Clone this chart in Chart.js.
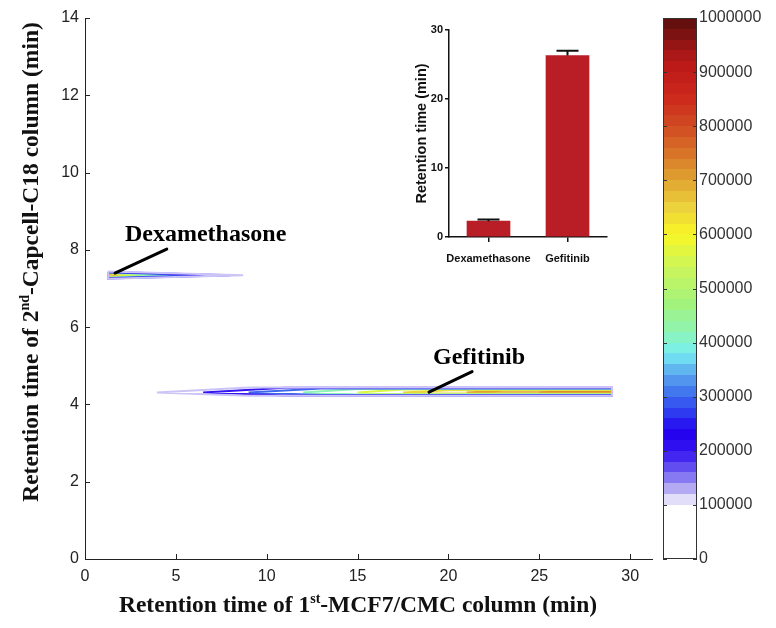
<!DOCTYPE html>
<html>
<head>
<title>2D retention map</title>
<script src="https://cdn.jsdelivr.net/npm/chart.js"></script>
<style>
  body { margin: 0; background: #fff; }
  #wrap { position: relative; width: 776px; height: 628px; }
  canvas { position: absolute; }
</style>
</head>
<body>
<div id="wrap">
  <canvas id="mainChart" width="776" height="628" style="left:0;top:0"></canvas>
  <canvas id="barChart" width="136" height="628" style="left:640px;top:0"></canvas>
  <canvas id="insetChart" width="220" height="260" style="left:400px;top:10px"></canvas>
</div>
<script>
// contour levels (signal) drawn for each peak
const contourLevels = [120000, 200000, 300000, 420000, 560000, 650000, 720000, 850000];

// Dexamethasone peak (cut at the left edge, tapering to the right)
const dexLeft = 1.27;
const dexTipY = 7.34;
const dexTipX = [8.7, 8.0, 6.5, 4.5, 3.3, 2.6, 2.2, null];
const dexTop = [7.44, 7.43, 7.42, 7.41, 7.40, 7.39, 7.38, null];
const dexBottom = [7.25, 7.26, 7.27, 7.28, 7.295, 7.30, 7.31, null];

// Gefitinib peak (tapering to the left, cut at the right edge)
const gefRight = 29.0;
const gefTipY = 4.31;
const gefTipX = [3.96, 6.5, 9.0, 12.0, 15.0, 17.5, 21.0, 25.0];
const gefShoulderX = [9.0, 11.0, 13.0, 15.0, 17.5, 20.0, 23.0, 26.5];
const gefTop = [4.435, 4.43, 4.415, 4.40, 4.385, 4.37, 4.355, 4.34];
const gefBottom = [4.225, 4.23, 4.245, 4.26, 4.27, 4.28, 4.29, 4.30];

// peak labels: text anchor and leader line, in data units
const peakNames = ['Dexamethasone', 'Gefitinib'];
const peakTextAt = [[2.2, 8.23], [19.15, 5.05]];
const leaderFrom = [[1.65, 7.40], [18.93, 4.32]];
const leaderTo = [[4.5, 8.02], [21.3, 4.85]];

// inset bar chart
const insetCategories = ['Dexamethasone', 'Gefitinib'];
const insetMeans = [2.3, 26.3];
const insetErrors = [0.25, 0.7];

// colour scale of the colour bar
const paletteStops = [
  [0, '#ffffff'], [100000, '#ffffff'], [110000, '#e2defa'], [130000, '#b4aaf4'],
  [160000, '#7060f0'], [200000, '#3414f0'], [235000, '#2200ee'], [270000, '#2e3af0'],
  [305000, '#4070ee'], [340000, '#58a4ee'], [380000, '#76eef2'], [420000, '#8ef4b4'],
  [470000, '#a2f27e'], [540000, '#ccf65a'], [600000, '#f8f624'], [650000, '#ecd23c'],
  [700000, '#e0a430'], [750000, '#d87428'], [800000, '#d04a22'], [860000, '#cc261c'],
  [920000, '#b81818'], [1000000, '#5a0e0e']
];
const colorbarStep = 20000;

function hexToRgb(h) {
  return [parseInt(h.slice(1, 3), 16), parseInt(h.slice(3, 5), 16), parseInt(h.slice(5, 7), 16)];
}
function paletteAt(v) {
  for (let i = 1; i < paletteStops.length; i++) {
    const [v1, c1] = paletteStops[i];
    const [v0, c0] = paletteStops[i - 1];
    if (v <= v1) {
      const t = (v - v0) / (v1 - v0);
      const a = hexToRgb(c0), b = hexToRgb(c1);
      return 'rgb(' + a.map((x, k) => Math.round(x + (b[k] - x) * t)).join(',') + ')';
    }
  }
  return paletteStops[paletteStops.length - 1][1];
}

// build closed contour outlines from the read values
const datasets = [];
contourLevels.forEach((lvl, i) => {
  if (dexTipX[i] !== null) {
    datasets.push({
      data: [
        { x: dexLeft, y: dexTop[i] }, { x: dexTipX[i], y: dexTipY },
        { x: dexLeft, y: dexBottom[i] }, { x: dexLeft, y: dexTop[i] }
      ],
      borderColor: paletteAt(lvl)
    });
  }
  datasets.push({
    data: [
      { x: gefTipX[i], y: gefTipY }, { x: gefShoulderX[i], y: gefTop[i] },
      { x: gefRight, y: gefTop[i] }, { x: gefRight, y: gefBottom[i] },
      { x: gefShoulderX[i], y: gefBottom[i] }, { x: gefTipX[i], y: gefTipY }
    ],
    borderColor: paletteAt(lvl)
  });
});
datasets.forEach(d => {
  d.showLine = true;
  d.pointRadius = 0;
  d.borderWidth = 2;
  d.tension = 0;
  d.fill = false;
});

const tickFont = { family: '"Liberation Sans", Arial, sans-serif', size: 16 };
const titleFont = 'bold 23.5px "Liberation Serif", "Times New Roman", serif';
const supFont = 'bold 14px "Liberation Serif", "Times New Roman", serif';

function drawRich(ctx, parts, x, y) {
  let w = 0;
  parts.forEach(p => { ctx.font = p.sup ? supFont : titleFont; w += ctx.measureText(p.t).width; });
  let cx = x - w / 2;
  parts.forEach(p => {
    ctx.font = p.sup ? supFont : titleFont;
    ctx.fillText(p.t, cx, p.sup ? y - 9 : y);
    cx += ctx.measureText(p.t).width;
  });
}

const insideTicks = {
  id: 'insideTicks',
  afterDraw(chart) {
    const { ctx, chartArea, scales } = chart;
    ctx.save();
    ctx.strokeStyle = '#222';
    ctx.lineWidth = 1;
    ctx.beginPath();
    scales.x.ticks.forEach(t => {
      const px = Math.round(scales.x.getPixelForValue(t.value)) + 0.5;
      ctx.moveTo(px, chartArea.bottom);
      ctx.lineTo(px, chartArea.bottom - 5);
    });
    scales.y.ticks.forEach(t => {
      const py = Math.round(scales.y.getPixelForValue(t.value)) + 0.5;
      ctx.moveTo(chartArea.left, py);
      ctx.lineTo(chartArea.left + 5, py);
    });
    ctx.stroke();
    ctx.restore();
  }
};

const mainTitles = {
  id: 'mainTitles',
  afterDraw(chart) {
    const { ctx } = chart;
    ctx.save();
    ctx.fillStyle = '#111';
    ctx.textBaseline = 'alphabetic';
    ctx.textAlign = 'left';
    drawRich(ctx, [{ t: 'Retention time of 1' }, { t: 'st', sup: true }, { t: '-MCF7/CMC column (min)' }], 358, 612);
    ctx.translate(38, 262);
    ctx.rotate(-Math.PI / 2);
    drawRich(ctx, [{ t: 'Retention time of 2' }, { t: 'nd', sup: true }, { t: '-Capcell-C18 column (min)' }], 0, 0);
    ctx.restore();
  }
};

const peakLabels = {
  id: 'peakLabels',
  afterDraw(chart) {
    const { ctx, scales } = chart;
    ctx.save();
    ctx.strokeStyle = '#000';
    ctx.lineWidth = 3;
    ctx.lineCap = 'round';
    ctx.fillStyle = '#000';
    ctx.font = 'bold 24px "Liberation Serif", "Times New Roman", serif';
    peakNames.forEach((name, i) => {
      ctx.beginPath();
      ctx.moveTo(scales.x.getPixelForValue(leaderFrom[i][0]), scales.y.getPixelForValue(leaderFrom[i][1]));
      ctx.lineTo(scales.x.getPixelForValue(leaderTo[i][0]), scales.y.getPixelForValue(leaderTo[i][1]));
      ctx.stroke();
      ctx.fillText(name, scales.x.getPixelForValue(peakTextAt[i][0]), scales.y.getPixelForValue(peakTextAt[i][1]));
    });
    ctx.restore();
  }
};

new Chart(document.getElementById('mainChart'), {
  type: 'scatter',
  data: { datasets },
  options: {
    responsive: false,
    animation: false,
    layout: { padding: { top: 18, right: 124, left: 0, bottom: 0 } },
    plugins: { legend: { display: false }, tooltip: { enabled: false } },
    scales: {
      x: {
        type: 'linear', min: 0, max: 31.2,
        afterFit: s => { s.height = 69; },
        ticks: { stepSize: 5, includeBounds: false, font: tickFont, color: '#222', padding: 8, maxRotation: 0 },
        grid: { drawOnChartArea: false, drawTicks: false },
        border: { color: '#222', width: 1 }
      },
      y: {
        type: 'linear', min: 0, max: 14,
        afterFit: s => { s.width = 85; },
        ticks: { stepSize: 2, font: tickFont, color: '#222', padding: 6 },
        grid: { drawOnChartArea: false, drawTicks: false },
        border: { color: '#222', width: 1 }
      }
    }
  },
  plugins: [insideTicks, mainTitles, peakLabels]
});

// colour bar
const colorbarFrame = {
  id: 'colorbarFrame',
  afterDraw(chart) {
    const { ctx, chartArea, scales } = chart;
    ctx.save();
    ctx.strokeStyle = '#333';
    ctx.lineWidth = 1;
    ctx.strokeRect(chartArea.left + 0.5, chartArea.top + 0.5, chartArea.right - chartArea.left - 1, chartArea.bottom - chartArea.top - 1);
    ctx.beginPath();
    scales.y.ticks.forEach(t => {
      const py = Math.round(scales.y.getPixelForValue(t.value)) + 0.5;
      ctx.moveTo(chartArea.left, py); ctx.lineTo(chartArea.left + 4, py);
      ctx.moveTo(chartArea.right, py); ctx.lineTo(chartArea.right - 4, py);
    });
    ctx.stroke();
    ctx.restore();
  }
};

new Chart(document.getElementById('barChart'), {
  type: 'bar',
  data: {
    labels: [''],
    datasets: [{
      data: [1000000],
      barPercentage: 1, categoryPercentage: 1,
      backgroundColor: c => {
        const area = c.chart.chartArea;
        if (!area) return '#fff';
        const g = c.chart.ctx.createLinearGradient(0, area.bottom, 0, area.top);
        g.addColorStop(0, '#ffffff');
        g.addColorStop(0.1, '#ffffff');
        for (let v = 100000; v < 1000000; v += colorbarStep) {
          const col = paletteAt(v + colorbarStep / 2);
          g.addColorStop(v / 1000000, col);
          g.addColorStop(Math.min(1, (v + colorbarStep) / 1000000), col);
        }
        return g;
      }
    }]
  },
  options: {
    responsive: false,
    animation: false,
    layout: { padding: { top: 18, left: 23, right: 0, bottom: 69 } },
    plugins: { legend: { display: false }, tooltip: { enabled: false } },
    scales: {
      x: { display: false },
      y: {
        position: 'right', min: 0, max: 1000000,
        afterFit: s => { s.width = 79; },
        ticks: { stepSize: 100000, font: tickFont, color: '#333', padding: 2, callback: v => String(v) },
        grid: { display: false, drawTicks: false },
        border: { display: false }
      }
    }
  },
  plugins: [colorbarFrame]
});

// inset bar chart with error bars
const errorBars = {
  id: 'errorBars',
  afterDatasetsDraw(chart) {
    const { ctx, scales } = chart;
    ctx.save();
    ctx.strokeStyle = '#111';
    ctx.lineWidth = 2;
    insetMeans.forEach((m, i) => {
      const px = scales.x.getPixelForValue(i);
      const y0 = scales.y.getPixelForValue(m);
      const y1 = scales.y.getPixelForValue(m + insetErrors[i]);
      ctx.beginPath();
      ctx.moveTo(px, y0); ctx.lineTo(px, y1);
      ctx.moveTo(px - 11, y1); ctx.lineTo(px + 11, y1);
      ctx.stroke();
    });
    ctx.font = 'bold 14.5px "Liberation Sans", Arial, sans-serif';
    ctx.fillStyle = '#111';
    ctx.textAlign = 'center';
    ctx.textBaseline = 'middle';
    const a = chart.chartArea;
    ctx.translate(a.left - 27, (a.top + a.bottom) / 2);
    ctx.rotate(-Math.PI / 2);
    ctx.fillText('Retention time (min)', 0, 0);
    ctx.restore();
  }
};

const insetFont = { family: '"Liberation Sans", Arial, sans-serif', size: 11, weight: 'bold' };
new Chart(document.getElementById('insetChart'), {
  type: 'bar',
  data: {
    labels: insetCategories,
    datasets: [{ data: insetMeans, backgroundColor: '#b91d26', barThickness: 43 }]
  },
  options: {
    responsive: false,
    animation: false,
    layout: { padding: { top: 20, right: 13, left: 0, bottom: 0 } },
    plugins: { legend: { display: false }, tooltip: { enabled: false } },
    scales: {
      x: {
        afterFit: s => { s.height = 33; },
        ticks: { font: insetFont, color: '#111', padding: 10, maxRotation: 0, autoSkip: false },
        grid: { offset: false, drawOnChartArea: false, tickLength: 5, color: '#111', lineWidth: 1.5 },
        border: { color: '#111', width: 1.5 }
      },
      y: {
        min: 0, max: 30,
        afterFit: s => { s.width = 49; },
        ticks: { stepSize: 10, font: insetFont, color: '#111', padding: 2 },
        grid: { drawOnChartArea: false, tickLength: 4, color: '#111', lineWidth: 1.5 },
        border: { color: '#111', width: 1.5 }
      }
    }
  },
  plugins: [errorBars]
});
</script>
</body>
</html>
